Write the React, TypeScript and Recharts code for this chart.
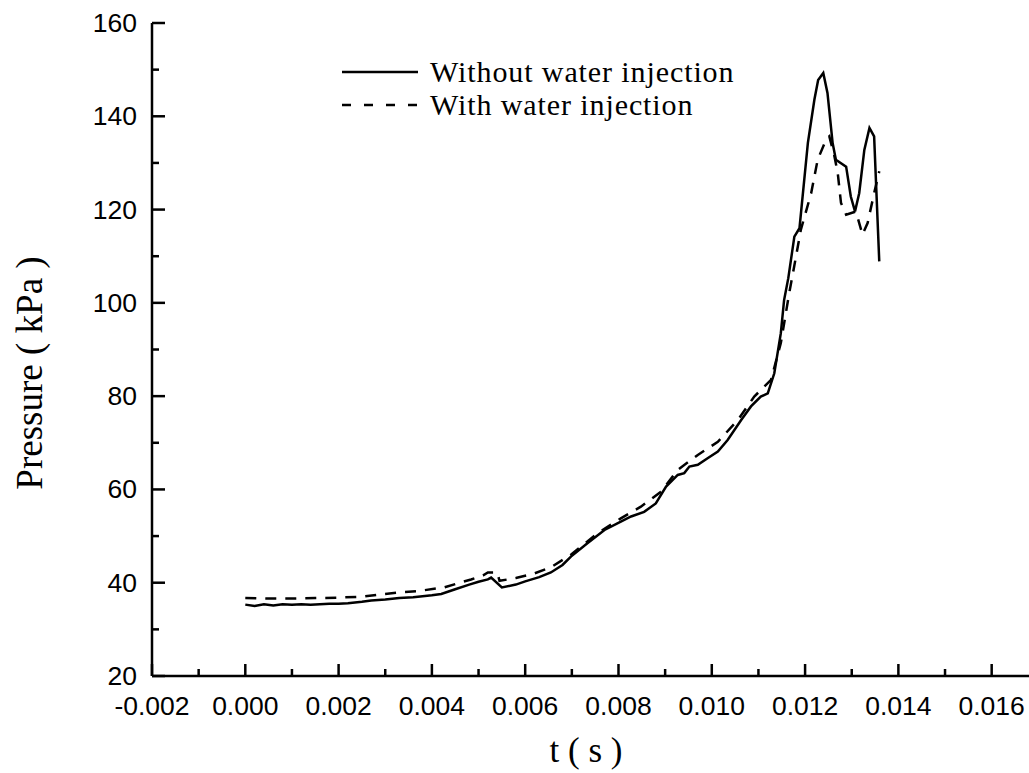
import React from 'react';
import { LineChart, Line, XAxis, YAxis, Legend } from 'recharts';

const withoutT = [0, 0.0002, 0.0004, 0.0006, 0.0008, 0.001, 0.0012, 0.0014, 0.0016, 0.0018, 0.002, 0.0022, 0.0025, 0.0027, 0.003, 0.0033, 0.0036, 0.004, 0.0042, 0.0045, 0.0048, 0.005, 0.0052, 0.00527, 0.0055, 0.0058, 0.006, 0.0063, 0.00655, 0.0068, 0.00698, 0.00734, 0.0077, 0.00805, 0.00827, 0.00855, 0.0088, 0.00902, 0.00927, 0.00941, 0.00952, 0.0097, 0.00991, 0.01013, 0.01034, 0.01063, 0.01084, 0.01105, 0.0112, 0.01134, 0.01148, 0.01155, 0.01164, 0.01177, 0.01188, 0.01206, 0.0122, 0.01228, 0.01239, 0.01248, 0.01259, 0.01266, 0.01288, 0.01298, 0.01307, 0.01316, 0.01327, 0.01338, 0.01348, 0.01359];
const withoutP = [35.3, 35.0, 35.4, 35.1, 35.4, 35.3, 35.4, 35.3, 35.4, 35.5, 35.5, 35.6, 35.9, 36.2, 36.4, 36.7, 36.9, 37.3, 37.6, 38.6, 39.6, 40.2, 40.7, 41.1, 39.0, 39.6, 40.3, 41.2, 42.2, 43.8, 45.6, 48.5, 51.3, 53.1, 54.2, 55.2, 57.0, 60.6, 63.1, 63.5, 64.9, 65.3, 66.7, 68.1, 70.6, 74.9, 77.8, 79.9, 80.6, 84.9, 93.5, 100.6, 105.3, 114.2, 116.0, 134.3, 143.6, 147.8, 149.3, 145.0, 134.3, 130.7, 129.2, 122.8, 119.6, 123.5, 132.8, 137.5, 135.7, 108.9];

const withT = [0, 0.0005, 0.001, 0.0015, 0.002, 0.0025, 0.0029, 0.0033, 0.0037, 0.00427, 0.0045, 0.00484, 0.0051, 0.0052, 0.0054, 0.00545, 0.0058, 0.0062, 0.00655, 0.00698, 0.00755, 0.00805, 0.00848, 0.00891, 0.00927, 0.0097, 0.01013, 0.01056, 0.01091, 0.01127, 0.01148, 0.01166, 0.01177, 0.01191, 0.01213, 0.01227, 0.01245, 0.01252, 0.01263, 0.0127, 0.01277, 0.01288, 0.01309, 0.0132, 0.01323, 0.01334, 0.01348, 0.01359];
const withP = [36.7, 36.6, 36.6, 36.7, 36.8, 37.0, 37.5, 37.9, 38.2, 39.0, 39.7, 40.7, 41.6, 42.2, 42.2, 40.4, 41.0, 42.0, 43.3, 46.0, 50.6, 53.8, 56.3, 59.5, 64.2, 67.4, 70.2, 74.9, 79.9, 83.5, 91.4, 102.1, 108.0, 115.7, 123.5, 130.7, 135.0, 135.7, 131.4, 127.8, 121.4, 118.9, 119.6, 115.7, 114.6, 117.1, 123.5, 128.2];

const xMajorTicks = [-0.002, 0, 0.002, 0.004, 0.006, 0.008, 0.01, 0.012, 0.014, 0.016];
const xMinorTicks = [-0.001, 0.001, 0.003, 0.005, 0.007, 0.009, 0.011, 0.013, 0.015];
const yMajorTicks = [20, 40, 60, 80, 100, 120, 140, 160];
const yMinorTicks = [30, 50, 70, 90, 110, 130, 150];

const seriesNames = ['Without water injection', 'With water injection'];
const xTitle = 't ( s )';
const yTitle = 'Pressure ( kPa )';

const withoutData = withoutT.map((t, i) => ({ t, p: withoutP[i] }));
const withData = withT.map((t, i) => ({ t, p: withP[i] }));

const SANS = '"Liberation Sans", Arial, sans-serif';
const SERIF = '"Liberation Serif", "Times New Roman", serif';
const DASH = '11 9';

const isMajorX = (v: number) => xMajorTicks.some((m) => Math.abs(m - v) < 1e-9);
const isMajorY = (v: number) => yMajorTicks.includes(v);

const XTick = (props: any) => {
  const { x, y, payload } = props;
  const v = payload.value as number;
  const major = isMajorX(v);
  return (
    <g>
      <line x1={x} x2={x} y1={y} y2={y - (major ? 12 : 7)} stroke="#000" strokeWidth={2.5} />
      {major && (
        <text x={x} y={y + 39} textAnchor="middle" fontFamily={SANS} fontSize={26.5} fill="#000">
          {v.toFixed(3)}
        </text>
      )}
    </g>
  );
};

const YTick = (props: any) => {
  const { x, y, payload } = props;
  const v = payload.value as number;
  const major = isMajorY(v);
  return (
    <g>
      <line x1={x} x2={x + (major ? 13 : 7)} y1={y} y2={y} stroke="#000" strokeWidth={2.5} />
      {major && (
        <text x={x - 15} y={y + 9} textAnchor="end" fontFamily={SANS} fontSize={26.5} fill="#000">
          {v}
        </text>
      )}
    </g>
  );
};

const LegendContent = () => (
  <div style={{ fontFamily: SERIF, fontSize: 30, color: '#000', lineHeight: '33px', letterSpacing: '0.9px' }}>
    {seriesNames.map((name, i) => (
      <div key={name} style={{ display: 'flex', alignItems: 'center', whiteSpace: 'nowrap', height: 33 }}>
        <svg width={92} height={33} style={{ display: 'block' }}>
          <line x1={4} x2={80} y1={17} y2={17} stroke="#000" strokeWidth={2.5} strokeDasharray={i === 1 ? '9 13' : undefined} />
        </svg>
        <span style={{ display: 'block', height: 33, lineHeight: '33px' }}>{name}</span>
      </div>
    ))}
  </div>
);

export default function App() {
  return (
    <div style={{ position: 'absolute', left: 0, top: 0, width: 1029, height: 773, background: '#fff' }}>
      <LineChart width={1029} height={773} margin={{ top: 23, right: 0, bottom: 57, left: 82 }}>
        <XAxis
          type="number"
          dataKey="t"
          domain={[-0.002, 0.0168]}
          ticks={[...xMajorTicks, ...xMinorTicks].sort((a, b) => a - b)}
          interval={0}
          allowDataOverflow
          height={40}
          tickSize={0}
          tickMargin={0}
          tickLine={false}
          tick={<XTick />}
          axisLine={{ stroke: '#000', strokeWidth: 2.5 }}
          label={{
            content: () => (
              <text x={586} y={762} textAnchor="middle" fontFamily={SERIF} fontSize={35} fill="#000">
                {xTitle}
              </text>
            ),
          }}
        />
        <YAxis
          type="number"
          domain={[20, 160]}
          ticks={[...yMajorTicks, ...yMinorTicks].sort((a, b) => a - b)}
          interval={0}
          allowDataOverflow
          width={70}
          tickSize={0}
          tickMargin={0}
          tickLine={false}
          tick={<YTick />}
          axisLine={{ stroke: '#000', strokeWidth: 2.5 }}
          label={{
            content: () => (
              <text
                x={42}
                y={373}
                transform="rotate(-90 42 373)"
                textAnchor="middle"
                fontFamily={SERIF}
                fontSize={37}
                fill="#000"
              >
                {yTitle}
              </text>
            ),
          }}
        />
        <Legend
          layout="vertical"
          align="center"
          verticalAlign="middle"
          content={<LegendContent />}
          wrapperStyle={{ left: 338, top: 55, width: 'auto', height: 'auto' }}
        />
        <Line
          data={withoutData}
          dataKey="p"
          name={seriesNames[0]}
          type="linear"
          stroke="#000"
          strokeWidth={2.5}
          dot={false}
          isAnimationActive={false}
        />
        <Line
          data={withData}
          dataKey="p"
          name={seriesNames[1]}
          type="linear"
          stroke="#000"
          strokeWidth={2.5}
          strokeDasharray={DASH}
          dot={false}
          isAnimationActive={false}
        />
      </LineChart>
    </div>
  );
}
